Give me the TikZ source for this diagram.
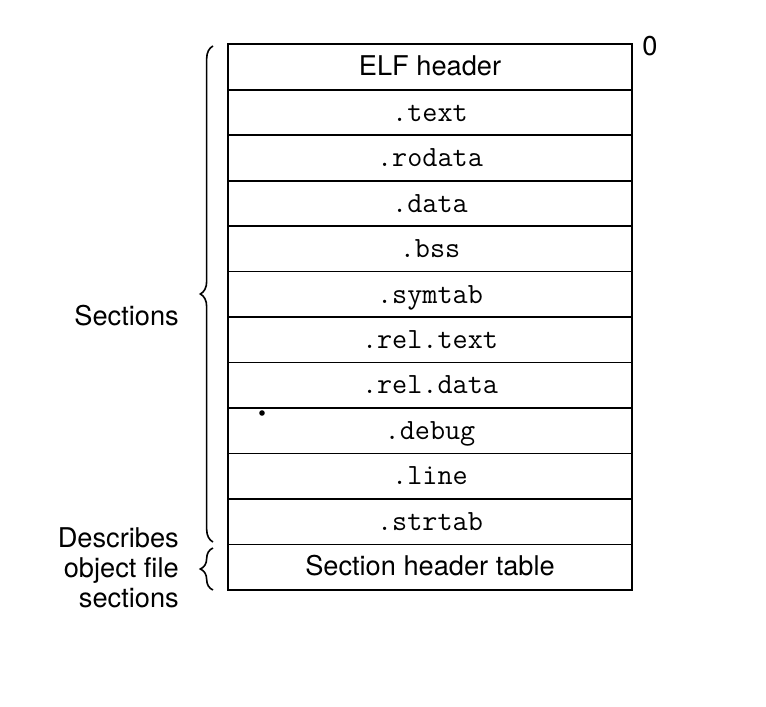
\documentclass[tikz,border=0pt]{standalone}
\usepackage{fontspec}
\setmainfont{TeX Gyre Heros}
\usetikzlibrary{positioning,decorations.pathreplacing}
\newcommand{\sanslab}{\fontsize{20.4}{22.5}\selectfont}
\newcommand{\ttlab}{\fontsize{22}{24}\selectfont\ttfamily}
\tikzset{
  row/.style={draw, line width=1.3pt, minimum width=303pt, minimum height=34.1pt,
    inner sep=0pt, outer sep=0pt, text height=1.3em, text depth=0pt, font=\ttlab},
  sideline/.style={font=\sanslab, align=right, anchor=east, inner sep=0pt},
  curly/.style={line width=1.2pt, decorate, decoration={brace, amplitude=9.5pt}}
}

\begin{document}
\begin{tikzpicture}[x=0.75pt, y=-0.75pt]
\useasboundingbox (0,0) rectangle (766,706);
%\draw[help lines, step=50](0,0)grid(766,706);
\node[row, font=\sanslab] (r0) at (430,67) {ELF header};
\foreach \lab [count=\i, evaluate=\i as \j using int(\i-1)] in
  {.text,.rodata,.data,.bss,.symtab,.rel.text,.rel.data,.debug,.line,.strtab}
  \node[row, below=0pt of r\j] (r\i) {\lab};
\node[row, font=\sanslab, below=0pt of r10] (r11) {Section header table};
\node[font=\sanslab, anchor=center] (zero) at (650,46) {0};
\fill (262,413) circle (2.8);
% braces
\draw[curly] (213,542) -- (213,46);
\draw[curly] (213,590) -- (213,548);
\node[sideline] (sec) at (179,316) {Sections};
\node[sideline] (desc) at (179,568) {Describes\\object file\\sections};
\end{tikzpicture}
\end{document}
